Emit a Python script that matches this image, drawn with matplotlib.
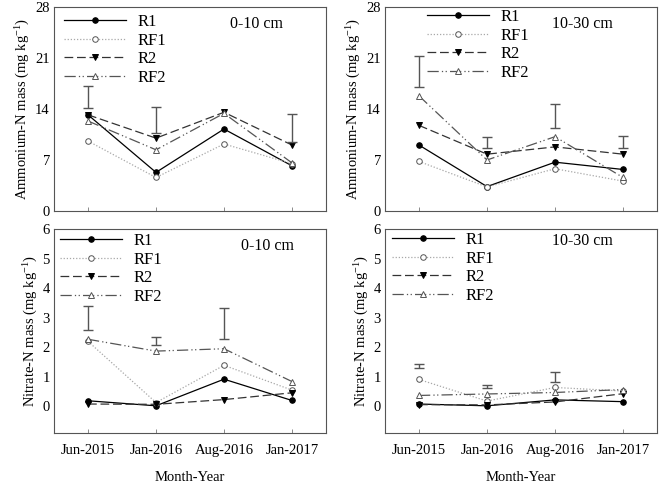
import matplotlib
matplotlib.use('Agg')
import matplotlib.pyplot as plt
import numpy as np

plt.rcParams['font.family'] = 'Liberation Serif'
plt.rcParams['mathtext.fontset'] = 'custom'
plt.rcParams['mathtext.rm'] = 'Liberation Serif'
plt.rcParams['mathtext.default'] = 'rm'

months = ['Jun-2015', 'Jan-2016', 'Aug-2016', 'Jan-2017']
series = ['R1', 'RF1', 'R2', 'RF2']

# Ammonium-N, 0-10 cm
amm_0_10 = {
    'R1': [13.2, 5.3, 11.25, 6.2],
    'RF1': [9.6, 4.6, 9.2, 6.5],
    'R2': [13.2, 10.0, 13.55, 9.05],
    'RF2': [12.35, 8.4, 13.4, 6.6],
}
amm_0_10_bar = [(14.1, 17.15), (10.75, 14.3), None, (9.5, 13.3)]

# Ammonium-N, 10-30 cm
amm_10_30 = {
    'R1': [9.05, 3.35, 6.7, 5.7],
    'RF1': [6.8, 3.3, 5.8, 4.1],
    'R2': [11.75, 7.8, 8.8, 7.8],
    'RF2': [15.8, 7.0, 10.2, 4.6],
}
amm_10_30_bar = [(17.05, 21.25), (8.7, 10.1), (11.45, 14.65), (8.7, 10.3)]

# Nitrate-N, 0-10 cm
nit_0_10 = {
    'R1': [0.19, 0.02, 0.92, 0.2],
    'RF1': [2.2, 0.13, 1.39, 0.55],
    'R2': [0.08, 0.07, 0.23, 0.46],
    'RF2': [2.27, 1.87, 1.95, 0.84],
}
nit_0_10_bar = [(2.6, 3.4), (2.06, 2.35), (2.29, 3.32), None]

# Nitrate-N, 10-30 cm
nit_10_30 = {
    'R1': [0.08, 0.02, 0.22, 0.16],
    'RF1': [0.91, 0.18, 0.64, 0.52],
    'R2': [0.06, 0.05, 0.15, 0.43],
    'RF2': [0.37, 0.42, 0.47, 0.57],
}
nit_10_30_bar = [(1.3, 1.43), (0.63, 0.73), (0.82, 1.17), None]

styles = {
    'R1': dict(color='black', ls='-', marker='o', mfc='black', mec='black', lw=0.9),
    'RF1': dict(color='#a8a8a8', ls=(0, (1, 1.5)), marker='o', mfc='white', mec='#555555', lw=0.9),
    'R2': dict(color='#333333', ls=(0, (7, 3)), marker='v', mfc='black', mec='black', lw=0.9),
    'RF2': dict(color='#555555', ls=(0, (9, 2.5, 1, 2, 1, 2.5)), marker='^', mfc='white', mec='#555555', lw=0.9),
}

fig = plt.figure(figsize=(6.6, 4.83), dpi=100)
W, H = 660, 483
boxes = [(54, 326, 7, 211), (385, 657, 7, 211), (54, 326, 229, 433), (385, 657, 229, 433)]
panels = [
    (amm_0_10, amm_0_10_bar, '0-10 cm', 'amm'),
    (amm_10_30, amm_10_30_bar, '10-30 cm', 'amm'),
    (nit_0_10, nit_0_10_bar, '0-10 cm', 'nit'),
    (nit_10_30, nit_10_30_bar, '10-30 cm', 'nit'),
]
# legend anchor and depth-label position (axes fractions)
leg_pos = [(0.037, 0.965), (0.154, 0.99), (0.022, 0.98), (0.026, 0.985)]
depth_pos = [(0.647, 0.917), (0.614, 0.917), (0.687, 0.915), (0.614, 0.94)]

x = np.arange(len(months))
for i, ((x0, x1, y0, y1), (data, bars, depth, kind)) in enumerate(zip(boxes, panels)):
    ax = fig.add_axes([x0 / W, 1 - y1 / H, (x1 - x0) / W, (y1 - y0) / H])
    for s in series:
        ax.plot(x, data[s], ms=4, mew=0.7, label=s, **styles[s])
    for xi, b in zip(x, bars):
        if b is None:
            continue
        lo, hi = b
        ax.errorbar(xi, (lo + hi) / 2, yerr=(hi - lo) / 2, fmt='none',
                    ecolor='#555555', elinewidth=1.0, capsize=3.5, capthick=1.0)
    ax.set_xlim(-0.5, 3.5)
    ax.set_xticks(x)
    if kind == 'amm':
        ax.set_ylim(0, 28)
        ax.set_yticks([0, 7, 14, 21, 28])
        ax.set_ylabel('Ammonium-N mass (mg kg$^{-1}$)', fontsize=10.5, labelpad=2)
        ax.set_xticklabels([])
    else:
        ax.set_ylim(-0.9, 6)
        ax.set_yticks([0, 1, 2, 3, 4, 5, 6])
        ax.set_ylabel('Nitrate-N mass (mg kg$^{-1}$)', fontsize=10.5, labelpad=2)
        ax.set_xticklabels(months, fontsize=10.5)
        ax.set_xlabel('Month-Year', fontsize=10.5, labelpad=10)
    ax.tick_params(axis='x', direction='in', length=3, width=0.6, color='#777777', pad=8)
    ax.tick_params(axis='y', length=0, labelsize=10.5, pad=3)
    for sp in ax.spines.values():
        sp.set_color('#555555')
        sp.set_linewidth(0.8)
    ax.legend(loc='upper left', frameon=False, fontsize=12, handlelength=3.7,
              handletextpad=0.7, labelspacing=0.15, borderaxespad=0, borderpad=0,
              bbox_to_anchor=leg_pos[i])
    ax.text(depth_pos[i][0], depth_pos[i][1], depth, transform=ax.transAxes,
            fontsize=11.5, va='center')

fig.savefig('out.png', dpi=100)
plt.close(fig)
